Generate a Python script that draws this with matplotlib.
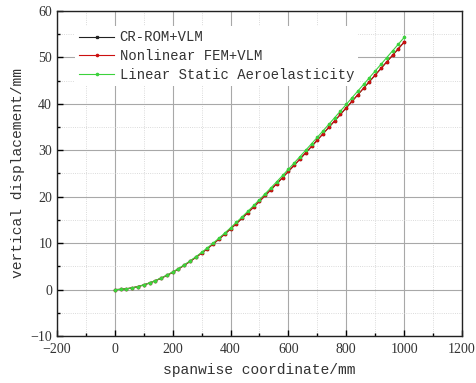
import matplotlib
matplotlib.use("Agg")
import matplotlib.pyplot as plt
from matplotlib.ticker import MultipleLocator

# spanwise stations (mm)
span_mm = [0, 20, 40, 60, 80, 100, 120, 140, 160, 180, 200, 220, 240, 260, 280,
           300, 320, 340, 360, 380, 400, 420, 440, 460, 480, 500, 520, 540, 560,
           580, 600, 620, 640, 660, 680, 700, 720, 740, 760, 780, 800, 820, 840,
           860, 880, 900, 920, 940, 960, 980, 1000]

# vertical displacement (mm)
disp_rom = [0.00, 0.04, 0.17, 0.37, 0.65, 1.00, 1.42, 1.90, 2.45, 3.06, 3.72,
            4.45, 5.23, 6.06, 6.94, 7.86, 8.82, 9.83, 10.87, 11.95, 13.06,
            14.20, 15.37, 16.56, 17.78, 19.02, 20.27, 21.54, 22.83, 24.13, 25.45,
            26.78, 28.12, 29.47, 30.83, 32.20, 33.58, 34.96, 36.35, 37.75, 39.15,
            40.56, 41.97, 43.38, 44.80, 46.21, 47.63, 49.05, 50.46, 51.88, 53.30]
disp_fem = [0.00, 0.04, 0.17, 0.37, 0.65, 1.00, 1.42, 1.90, 2.45, 3.06, 3.72,
            4.45, 5.23, 6.06, 6.94, 7.86, 8.82, 9.83, 10.87, 11.95, 13.06,
            14.20, 15.37, 16.56, 17.78, 19.02, 20.27, 21.54, 22.83, 24.13, 25.45,
            26.78, 28.12, 29.47, 30.83, 32.20, 33.58, 34.96, 36.35, 37.75, 39.15,
            40.56, 41.97, 43.38, 44.80, 46.21, 47.63, 49.05, 50.46, 51.88, 53.30]
disp_lin = [0.00, 0.04, 0.17, 0.38, 0.66, 1.02, 1.45, 1.94, 2.50, 3.12, 3.79,
            4.53, 5.33, 6.18, 7.07, 8.01, 8.99, 10.02, 11.08, 12.18, 13.31,
            14.47, 15.66, 16.87, 18.12, 19.38, 20.66, 21.95, 23.26, 24.59, 25.93,
            27.29, 28.65, 30.03, 31.42, 32.81, 34.22, 35.62, 37.04, 38.47, 39.89,
            41.33, 42.77, 44.20, 45.65, 47.09, 48.53, 49.98, 51.42, 52.86, 54.31]

labels = ["CR-ROM+VLM", "Nonlinear FEM+VLM", "Linear Static Aeroelasticity"]

mono = "Liberation Mono"
serif = "Liberation Serif"

fig = plt.figure(figsize=(4.76, 3.83), dpi=100)
ax = fig.add_axes([0.1197, 0.1227, 0.8509, 0.8486])

ax.plot(span_mm, disp_rom, color="#222222", lw=0.8, marker="s", ms=1.4,
        label=labels[0], zorder=3)
ax.plot(span_mm, disp_fem, color="#cc1010", lw=0.8, marker="o", ms=1.6,
        label=labels[1], zorder=4)
ax.plot(span_mm, disp_lin, color="#3cd23c", lw=0.8, marker="o", ms=1.6,
        label=labels[2], zorder=5)

ax.set_xlim(-200, 1200)
ax.set_ylim(-10, 60)
ax.xaxis.set_major_locator(MultipleLocator(200))
ax.xaxis.set_minor_locator(MultipleLocator(100))
ax.yaxis.set_major_locator(MultipleLocator(10))
ax.yaxis.set_minor_locator(MultipleLocator(5))

ax.grid(True, which="major", color="#a8a8a8", lw=0.8, ls="-", zorder=0)
ax.grid(True, which="minor", color="#cfcfcf", lw=0.6, ls=":", zorder=0)
ax.set_axisbelow(True)

ax.tick_params(which="both", direction="in", top=False, right=False,
               colors="black", labelsize=10)
ax.tick_params(which="major", length=4, width=1.0)
ax.tick_params(which="minor", length=2.5, width=1.0)
ax.tick_params(axis="x", which="major", pad=5)
for lab in ax.get_xticklabels() + ax.get_yticklabels():
    lab.set_fontfamily(serif)
    lab.set_color("#333333")

for sp in ax.spines.values():
    sp.set_linewidth(1.0)
    sp.set_color("#222222")

ax.set_xlabel("spanwise coordinate/mm", fontfamily=mono, fontsize=10.5,
              color="#333333", labelpad=5)
ax.set_ylabel("vertical displacement/mm", fontfamily=mono, fontsize=10.5,
              color="#333333", labelpad=4)

leg = ax.legend(loc="upper left", bbox_to_anchor=(0.045, 0.953),
                prop={"family": mono, "size": 10}, frameon=True,
                handlelength=2.5, handletextpad=0.4, labelspacing=0.35,
                borderpad=0.3, borderaxespad=0.0, fancybox=False)
leg.get_frame().set_facecolor("white")
leg.get_frame().set_edgecolor("none")
leg.get_frame().set_alpha(1.0)
leg.set_zorder(10)
for t in leg.get_texts():
    t.set_color("#333333")

fig.savefig("out.png", dpi=100)
